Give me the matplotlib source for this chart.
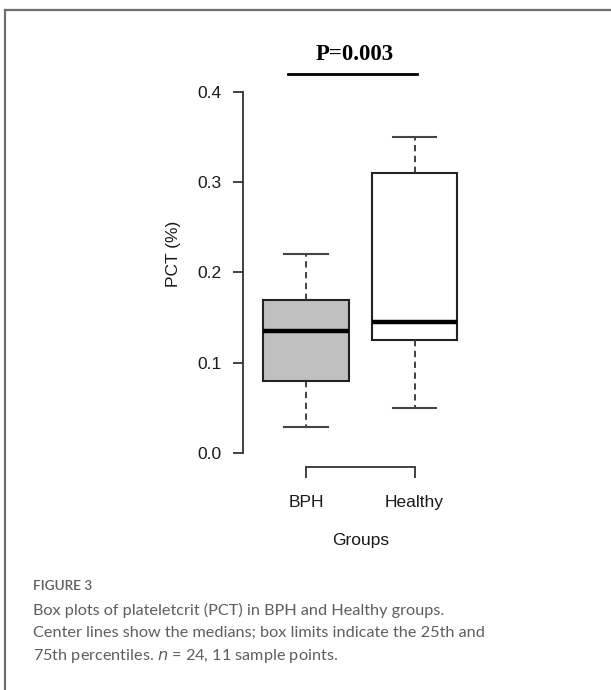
import matplotlib.pyplot as plt
from matplotlib.lines import Line2D

# box statistics for each group (PCT, %)
groups = ['BPH', 'Healthy']
whislo = [0.029, 0.05]
q1 = [0.08, 0.125]
med = [0.135, 0.145]
q3 = [0.17, 0.31]
whishi = [0.22, 0.35]
box_colors = ['#c0c0c0', 'white']
yticks = [0.0, 0.1, 0.2, 0.3, 0.4]
p_label = 'P=0.003'

W, H = 611, 690
fig = plt.figure(figsize=(W / 100, H / 100), dpi=100)

# outer frame (top and left edges only)
fig.add_artist(Line2D([4.5 / W, 1], [1 - 9.5 / H, 1 - 9.5 / H], color='#6e6e6e', lw=1.6))
fig.add_artist(Line2D([4.5 / W, 4.5 / W], [0, 1 - 9.5 / H], color='#6e6e6e', lw=1.6))

ax = fig.add_axes([243 / W, (H - 467) / H, (470 - 243) / W, (467 - 40) / H])
ax.set_xlim(0.4194, 2.511)
ax.set_ylim(-0.0155, 0.4576)

stats = []
for i in range(len(groups)):
    stats.append(dict(whislo=whislo[i], q1=q1[i], med=med[i], q3=q3[i],
                      whishi=whishi[i], label=groups[i]))

bp = ax.bxp(stats, positions=[1, 2], widths=0.79, patch_artist=True,
            showfliers=False,
            boxprops=dict(edgecolor='#222222', linewidth=1.5),
            medianprops=dict(color='black', linewidth=3.2),
            whiskerprops=dict(color='#333333', linewidth=1.3, linestyle=(0, (3.5, 2.5))),
            capprops=dict(color='#444444', linewidth=1.5),
            capwidths=0.4)
for patch, c in zip(bp['boxes'], box_colors):
    patch.set_facecolor(c)

for s in ['top', 'right']:
    ax.spines[s].set_visible(False)
ax.spines['left'].set_bounds(0, 0.4)
ax.spines['bottom'].set_bounds(1, 2)
for s in ['left', 'bottom']:
    ax.spines[s].set_color('#333333')
    ax.spines[s].set_linewidth(1.3)

ax.set_yticks(yticks)
ax.set_yticklabels([f'{v:.1f}' for v in yticks])
ax.set_xticks([1, 2])
ax.set_xticklabels(groups)
ax.tick_params(axis='y', length=7.5, width=1.3, color='#333333', pad=8,
               labelsize=12.5, labelcolor='#1a1a1a')
ax.tick_params(axis='x', length=8, width=1.3, color='#333333', pad=12,
               labelsize=12.5, labelcolor='#1a1a1a')
for lab in ax.get_xticklabels() + ax.get_yticklabels():
    lab.set_family('Liberation Sans')

ax.set_ylabel('PCT (%)', fontsize=12.5, family='Liberation Sans', color='#1a1a1a', labelpad=12)
ax.set_xlabel('Groups', fontsize=12.5, family='Liberation Sans', color='#1a1a1a')
ax.xaxis.set_label_coords((360.7 - 243) / (470 - 243), -(541 - 467) / (467 - 40))
ax.xaxis.label.set_va('center')

# significance marker
ax.plot([0.834, 2.023], [0.42, 0.42], color='black', lw=2, clip_on=False)
ax.text(1.452, 0.441, p_label, ha='center', va='center', fontsize=16.5,
        family='Liberation Serif', fontweight='bold')

# caption
fig.text(33 / W, 1 - 586 / H, 'FIGURE 3', fontsize=9.8, color='#5e5e5e',
         family='Lato', fontweight='semibold', va='center')
caption = ['Box plots of plateletcrit (PCT) in BPH and Healthy groups.',
           'Center lines show the medians; box limits indicate the 25th and',
           '75th percentiles. $n$ = 24, 11 sample points.']
for k, line in enumerate(caption):
    fig.text(33 / W, 1 - (610 + 23 * k) / H, line, fontsize=11.7, color='#5e5e5e',
             family='Lato', va='center')

fig.savefig('out.png', dpi=100)
